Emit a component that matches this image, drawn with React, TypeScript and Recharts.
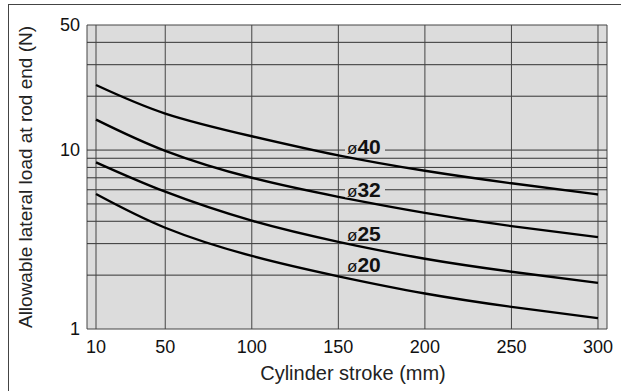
import React from 'react';
import {
  LineChart,
  Line,
  XAxis,
  YAxis,
  ReferenceArea,
  ReferenceLine,
  ReferenceDot,
} from 'recharts';

const strokes = [10, 50, 100, 150, 200, 250, 300];
const load40 = [23.1, 16.0, 11.95, 9.34, 7.66, 6.52, 5.65];
const load32 = [14.8, 9.9, 7.0, 5.48, 4.46, 3.76, 3.26];
const load25 = [8.54, 5.85, 4.03, 3.07, 2.47, 2.09, 1.81];
const load20 = [5.68, 3.68, 2.56, 1.97, 1.58, 1.33, 1.15];

const xTicks = [10, 50, 100, 150, 200, 250, 300];
const yTicks = [1, 10, 50];
const yGrid = [2, 3, 4, 5, 6, 7, 8, 9, 10, 20, 30, 40];

const boreNames = ['40', '32', '25', '20'];
const boreLabelY = [10.4, 6.03, 3.42, 2.28];
const boreLabelX = 155;

const X_DOMAIN: [number, number] = [4.8, 305.2];
const Y_DOMAIN: [number, number] = [1, 50];

const FONT = '"Liberation Sans", Arial, Helvetica, sans-serif';
const PLOT_BG = '#dcdcdc';
const GRID = '#333';

const data = strokes.map((s, i) => ({
  stroke: s,
  d40: load40[i],
  d32: load32[i],
  d25: load25[i],
  d20: load20[i],
}));

const BoreLabel = (name: string) => (props: any) => {
  const { cx, cy } = props;
  return (
    <g>
      <rect x={cx - 2} y={cy - 8} width={40} height={16} fill={PLOT_BG} />
      <text x={cx} y={cy + 7.2} fontFamily={FONT} fill="#111">
        <tspan fontSize={17}>ø</tspan>
        <tspan fontSize={21} fontWeight="bold">{name}</tspan>
      </text>
    </g>
  );
};

export default function App() {
  return (
    <div style={{ position: 'absolute', left: 0, top: 0, width: 621, height: 391, background: '#fff', overflow: 'hidden' }}>
      <div
        style={{
          position: 'absolute',
          left: 8,
          top: 4,
          width: 700,
          height: 500,
          borderLeft: '1px solid #444',
          borderTop: '1px solid #444',
        }}
      />
      <div style={{ position: 'absolute', left: 0, top: 0 }}>
        <LineChart
          width={621}
          height={391}
          data={data}
          margin={{ top: 25, right: 14, bottom: 0, left: 0 }}
          style={{ fontFamily: FONT }}
        >
          <XAxis
            dataKey="stroke"
            type="number"
            domain={X_DOMAIN}
            ticks={xTicks}
            allowDataOverflow
            axisLine={false}
            tickLine={false}
            tickSize={0}
            tickMargin={11}
            height={62}
            tick={{ fontSize: 18, fill: '#111', fontFamily: FONT }}
            label={{
              value: 'Cylinder stroke (mm)',
              position: 'insideBottom',
              offset: 11,
              dx: 6,
              style: { fontSize: 20, fill: '#222', fontFamily: FONT },
            }}
          />
          <YAxis
            scale="log"
            type="number"
            domain={Y_DOMAIN}
            ticks={yTicks}
            allowDataOverflow
            axisLine={false}
            tickLine={false}
            tickSize={0}
            tickMargin={7}
            width={87}
            tick={{ fontSize: 18, fill: '#111', fontFamily: FONT }}
            label={{
              value: 'Allowable lateral load at rod end (N)',
              angle: -90,
              position: 'insideLeft',
              offset: 25,
              style: { fontSize: 19, fill: '#222', fontFamily: FONT, textAnchor: 'middle' },
            }}
          />
          <ReferenceArea
            x1={X_DOMAIN[0]}
            x2={X_DOMAIN[1]}
            y1={Y_DOMAIN[0]}
            y2={Y_DOMAIN[1]}
            fill={PLOT_BG}
            fillOpacity={1}
            stroke="#444"
            strokeWidth={1}
          />
          {yGrid.map((v) => (
            <ReferenceLine key={'h' + v} y={v} stroke={GRID} strokeWidth={1} />
          ))}
          {xTicks.map((v) => (
            <ReferenceLine key={'v' + v} x={v} stroke="#444" strokeWidth={1} />
          ))}
          <Line type="natural" dataKey="d40" stroke="#000" strokeWidth={2.4} dot={false} isAnimationActive={false} />
          <Line type="natural" dataKey="d32" stroke="#000" strokeWidth={2.4} dot={false} isAnimationActive={false} />
          <Line type="natural" dataKey="d25" stroke="#000" strokeWidth={2.4} dot={false} isAnimationActive={false} />
          <Line type="natural" dataKey="d20" stroke="#000" strokeWidth={2.4} dot={false} isAnimationActive={false} />
          {boreNames.map((n, i) => (
            <ReferenceDot
              key={n}
              x={boreLabelX}
              y={boreLabelY[i]}
              r={0}
              shape={BoreLabel(n)}
            />
          ))}
        </LineChart>
      </div>
    </div>
  );
}
